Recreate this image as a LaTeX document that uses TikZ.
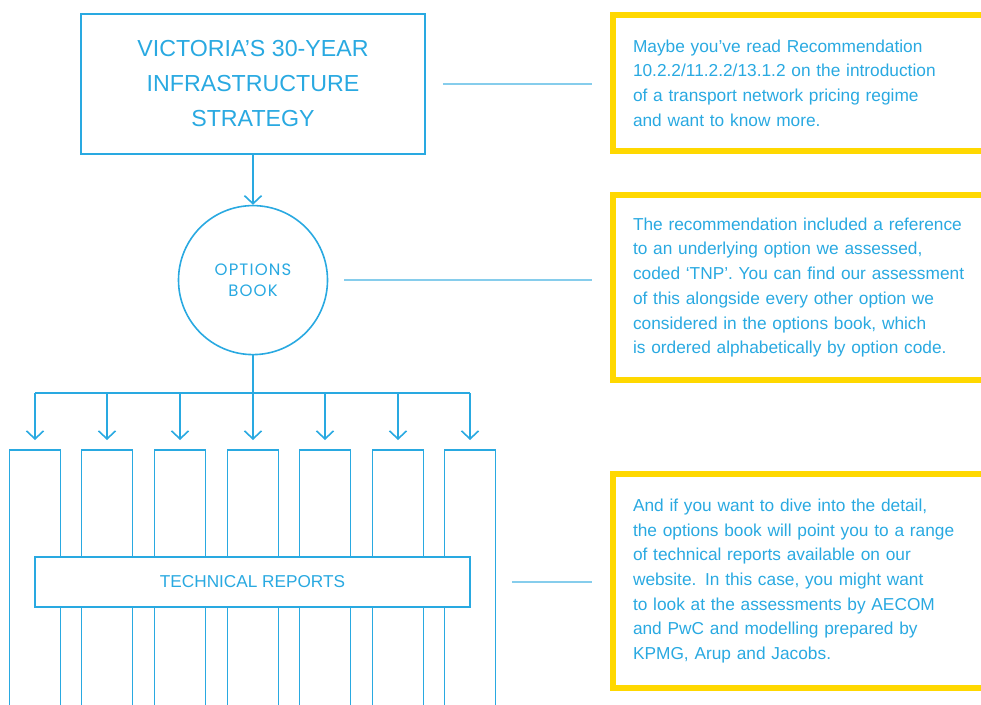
\documentclass[tikz,border=0pt]{standalone}
\usepackage{fontspec}
\setmainfont{Liberation Sans}
\newfontfamily\bookfont[LetterSpace=7]{Poppins}
\usetikzlibrary{arrows.meta, positioning}
\definecolor{ivblue}{HTML}{29A9E1}
\definecolor{ivlight}{HTML}{86CDEC}
\definecolor{ivyellow}{HTML}{FFD800}

\begin{document}
\begin{tikzpicture}[
  x=1pt, y=-1pt,
  every node/.style={text=ivblue},
  head/.style={rectangle, draw=ivblue, line width=1.6pt, minimum width=344pt,
               minimum height=140pt, align=center,
               font=\fontsize{23.2}{35}\selectfont},
  bk/.style={circle, draw=ivblue, line width=1.6pt, minimum size=149pt,
             align=center, font=\bookfont\fontsize{16.5}{21}\selectfont},
  col/.style={rectangle, draw=ivblue, line width=1.6pt, minimum width=51pt,
              minimum height=290pt, anchor=north},
  rep/.style={rectangle, draw=ivblue, fill=white, line width=1.6pt,
              minimum width=435pt, minimum height=50pt,
              font=\fontsize{17.2}{20}\selectfont},
  note/.style={rectangle, draw=ivyellow, line width=6pt, anchor=west,
               align=left, inner xsep=20pt, text width=370pt,
               font=\fontsize{17.3}{24.7}\selectfont},
  flow/.style={ivblue, line width=1.6pt},
  arr/.style={flow, -{Straight Barb[length=8pt, width=17pt]}},
  lnk/.style={ivlight, line width=1.4pt}
]
\useasboundingbox (0,0) rectangle (981,704);

% left column of the chart
\node[head] (strat) at (253,84) {VICTORIA’S 30-YEAR\\INFRASTRUCTURE\\STRATEGY};
\node[bk, below=50pt of strat] (book) {OPTIONS\\BOOK};
\draw[arr] (strat) -- (book);

\coordinate (hub) at (253,393);
\foreach \i/\x in {1/35, 2/107, 3/180, 4/253, 5/325, 6/398, 7/470}
  \node[col] (col\i) at (\x,449) {};
\draw[flow] (book.south) -- (hub);
\draw[flow] (col1.north |- hub) -- (col7.north |- hub);
\foreach \i in {1,...,7}
  \draw[arr] (col\i.north |- hub) -- ([yshift=9pt]col\i.north);

\node[rep] (tech) at (252.5,582) {TECHNICAL REPORTS};

% explanatory notes on the right
\node[note, minimum height=136pt] (n1) at (610,83) {%
Maybe you’ve read Recommendation\\
10.2.2/11.2.2/13.1.2 on the introduction\\
of a transport network pricing regime\\
and want to know more.};
\node[note, minimum height=185pt] (n2) at (610,287.5) {%
The recommendation included a reference\\
to an underlying option we assessed,\\
coded ‘TNP’. You can find our assessment\\
of this alongside every other option we\\
considered in the options book, which\\
is ordered alphabetically by option code.};
\node[note, minimum height=214pt] (n3) at (610,581) {%
And if you want to dive into the detail,\\
the options book will point you to a range\\
of technical reports available on our\\
website. In this case, you might want\\
to look at the assessments by AECOM\\
and PwC and modelling prepared by\\
KPMG, Arup and Jacobs.};

\draw[lnk, shorten <=17pt, shorten >=18pt] (strat.east) -- (strat.east -| n1.west);
\draw[lnk, shorten <=16pt, shorten >=18pt] (book.east) -- (book.east -| n2.west);
\draw[lnk, shorten <=41pt, shorten >=18pt] (tech.east) -- (tech.east -| n3.west);
\end{tikzpicture}
\end{document}
